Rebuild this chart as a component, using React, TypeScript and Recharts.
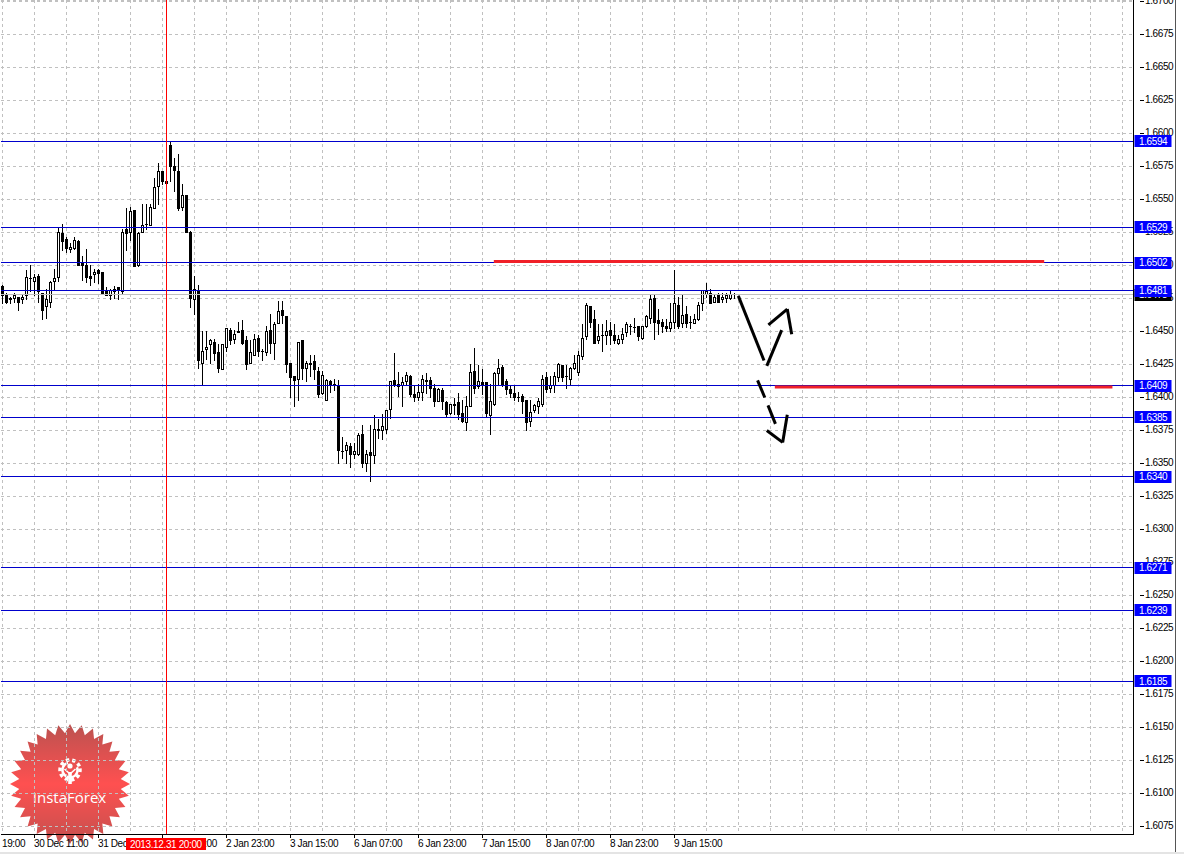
import { ComposedChart, Bar, XAxis, YAxis, CartesianGrid, ReferenceLine } from 'recharts';

const opens = [
  1.6484, 1.6478, 1.6475, 1.6475, 1.6476, 1.6474, 1.6477, 1.6490, 1.6488, 1.6492,
  1.6479, 1.6469, 1.6472, 1.6488, 1.6491, 1.6524, 1.6520, 1.6512, 1.6513, 1.6518,
  1.6502, 1.6500, 1.6492, 1.6493, 1.6496, 1.6495, 1.6480, 1.6477, 1.6480, 1.6483,
  1.6480, 1.6527, 1.6525, 1.6542, 1.6500, 1.6525, 1.6531, 1.6530, 1.6543, 1.6560,
  1.6571, 1.6564, 1.6591, 1.6575, 1.6571, 1.6544, 1.6553, 1.6525, 1.6474, 1.6481,
  1.6426, 1.6436, 1.6440, 1.6442, 1.6434, 1.6421, 1.6438, 1.6451, 1.6444, 1.6450,
  1.6451, 1.6443, 1.6426, 1.6432, 1.6445, 1.6435, 1.6434, 1.6451, 1.6441, 1.6456,
  1.6466, 1.6461, 1.6426, 1.6416, 1.6414, 1.6443, 1.6422, 1.6426, 1.6427, 1.6420,
  1.6403, 1.6398, 1.6412, 1.6410, 1.6409, 1.6359, 1.6360, 1.6363, 1.6357, 1.6357,
  1.6372, 1.6350, 1.6358, 1.6356, 1.6375, 1.6375, 1.6376, 1.6391, 1.6413, 1.6410,
  1.6409, 1.6412, 1.6416, 1.6402, 1.6400, 1.6404, 1.6413, 1.6413, 1.6407, 1.6397,
  1.6405, 1.6396, 1.6388, 1.6395, 1.6396, 1.6388, 1.6381, 1.6393, 1.6420, 1.6408,
  1.6411, 1.6411, 1.6386, 1.6395, 1.6418, 1.6423, 1.6412, 1.6406, 1.6403, 1.6400,
  1.6401, 1.6398, 1.6382, 1.6390, 1.6393, 1.6395, 1.6415, 1.6407, 1.6409, 1.6415,
  1.6424, 1.6416, 1.6414, 1.6422, 1.6419, 1.6431, 1.6446, 1.6469, 1.6459, 1.6443,
  1.6447, 1.6447, 1.6451, 1.6447, 1.6441, 1.6444, 1.6449, 1.6454, 1.6453, 1.6454,
  1.6445, 1.6454, 1.6460, 1.6475, 1.6458, 1.6457, 1.6454, 1.6452, 1.6457, 1.6470,
  1.6456, 1.6463, 1.6457, 1.6456, 1.6459, 1.6471, 1.6478, 1.6479, 1.6472, 1.6477,
  1.6474, 1.6475, 1.6475, 1.6478,
];
const highs = [
  1.6485, 1.6479, 1.6476, 1.6479, 1.6476, 1.6477, 1.6496, 1.6500, 1.6493, 1.6493,
  1.6479, 1.6482, 1.6488, 1.6497, 1.6528, 1.6531, 1.6521, 1.6517, 1.6521, 1.6519,
  1.6507, 1.6512, 1.6500, 1.6497, 1.6497, 1.6495, 1.6483, 1.6482, 1.6484, 1.6483,
  1.6527, 1.6543, 1.6544, 1.6542, 1.6525, 1.6546, 1.6546, 1.6546, 1.6566, 1.6577,
  1.6571, 1.6564, 1.6593, 1.6581, 1.6584, 1.6561, 1.6553, 1.6526, 1.6492, 1.6485,
  1.6450, 1.6450, 1.6444, 1.6444, 1.6440, 1.6440, 1.6452, 1.6452, 1.6451, 1.6457,
  1.6458, 1.6446, 1.6443, 1.6448, 1.6447, 1.6436, 1.6454, 1.6463, 1.6457, 1.6473,
  1.6473, 1.6461, 1.6426, 1.6416, 1.6442, 1.6443, 1.6427, 1.6432, 1.6432, 1.6423,
  1.6420, 1.6414, 1.6413, 1.6414, 1.6413, 1.6370, 1.6366, 1.6365, 1.6365, 1.6373,
  1.6379, 1.6360, 1.6379, 1.6386, 1.6383, 1.6387, 1.6390, 1.6412, 1.6433, 1.6419,
  1.6415, 1.6419, 1.6417, 1.6408, 1.6410, 1.6417, 1.6418, 1.6415, 1.6410, 1.6407,
  1.6407, 1.6397, 1.6395, 1.6399, 1.6403, 1.6398, 1.6401, 1.6425, 1.6437, 1.6424,
  1.6421, 1.6411, 1.6410, 1.6419, 1.6429, 1.6424, 1.6414, 1.6409, 1.6408, 1.6404,
  1.6402, 1.6398, 1.6398, 1.6395, 1.6399, 1.6417, 1.6419, 1.6416, 1.6419, 1.6426,
  1.6424, 1.6424, 1.6423, 1.6432, 1.6435, 1.6455, 1.6471, 1.6469, 1.6466, 1.6455,
  1.6455, 1.6458, 1.6457, 1.6455, 1.6447, 1.6452, 1.6457, 1.6455, 1.6460, 1.6454,
  1.6454, 1.6462, 1.6478, 1.6478, 1.6467, 1.6459, 1.6459, 1.6471, 1.6496, 1.6476,
  1.6477, 1.6469, 1.6461, 1.6463, 1.6472, 1.6481, 1.6486, 1.6482, 1.6478, 1.6479,
  1.6479, 1.6479, 1.6480, 1.6479,
];
const lows = [
  1.6471, 1.6471, 1.6471, 1.6472, 1.6466, 1.6471, 1.6474, 1.6480, 1.6477, 1.6472,
  1.6459, 1.6460, 1.6468, 1.6481, 1.6488, 1.6511, 1.6510, 1.6510, 1.6512, 1.6500,
  1.6489, 1.6487, 1.6485, 1.6487, 1.6486, 1.6479, 1.6477, 1.6474, 1.6475, 1.6474,
  1.6478, 1.6511, 1.6519, 1.6499, 1.6499, 1.6525, 1.6527, 1.6530, 1.6543, 1.6546,
  1.6561, 1.6562, 1.6564, 1.6556, 1.6542, 1.6542, 1.6525, 1.6468, 1.6463, 1.6422,
  1.6409, 1.6429, 1.6426, 1.6428, 1.6419, 1.6421, 1.6435, 1.6440, 1.6441, 1.6449,
  1.6440, 1.6421, 1.6426, 1.6432, 1.6431, 1.6428, 1.6432, 1.6433, 1.6429, 1.6456,
  1.6456, 1.6419, 1.6400, 1.6393, 1.6398, 1.6414, 1.6412, 1.6416, 1.6414, 1.6400,
  1.6402, 1.6398, 1.6404, 1.6405, 1.6350, 1.6354, 1.6350, 1.6347, 1.6354, 1.6356,
  1.6347, 1.6344, 1.6336, 1.6350, 1.6369, 1.6368, 1.6373, 1.6384, 1.6408, 1.6401,
  1.6393, 1.6409, 1.6401, 1.6397, 1.6398, 1.6398, 1.6403, 1.6400, 1.6393, 1.6397,
  1.6391, 1.6385, 1.6387, 1.6387, 1.6383, 1.6381, 1.6375, 1.6393, 1.6403, 1.6407,
  1.6402, 1.6385, 1.6372, 1.6394, 1.6410, 1.6408, 1.6402, 1.6400, 1.6398, 1.6397,
  1.6388, 1.6375, 1.6378, 1.6389, 1.6388, 1.6393, 1.6404, 1.6404, 1.6404, 1.6412,
  1.6412, 1.6407, 1.6410, 1.6421, 1.6417, 1.6429, 1.6444, 1.6453, 1.6441, 1.6441,
  1.6435, 1.6440, 1.6440, 1.6441, 1.6440, 1.6441, 1.6446, 1.6448, 1.6449, 1.6443,
  1.6444, 1.6453, 1.6456, 1.6444, 1.6448, 1.6449, 1.6450, 1.6450, 1.6452, 1.6452,
  1.6453, 1.6453, 1.6452, 1.6456, 1.6458, 1.6466, 1.6476, 1.6471, 1.6472, 1.6472,
  1.6472, 1.6472, 1.6474, 1.6475,
];
const closes = [
  1.6477, 1.6472, 1.6474, 1.6477, 1.6472, 1.6476, 1.6491, 1.6490, 1.6491, 1.6480,
  1.6466, 1.6474, 1.6487, 1.6490, 1.6525, 1.6518, 1.6513, 1.6514, 1.6519, 1.6500,
  1.6500, 1.6491, 1.6490, 1.6495, 1.6494, 1.6479, 1.6477, 1.6481, 1.6482, 1.6481,
  1.6525, 1.6524, 1.6541, 1.6499, 1.6524, 1.6530, 1.6531, 1.6544, 1.6559, 1.6571,
  1.6564, 1.6562, 1.6575, 1.6572, 1.6543, 1.6553, 1.6525, 1.6475, 1.6482, 1.6428,
  1.6435, 1.6438, 1.6443, 1.6433, 1.6422, 1.6440, 1.6452, 1.6443, 1.6448, 1.6449,
  1.6441, 1.6425, 1.6434, 1.6444, 1.6435, 1.6435, 1.6450, 1.6441, 1.6455, 1.6465,
  1.6462, 1.6425, 1.6415, 1.6413, 1.6442, 1.6422, 1.6426, 1.6425, 1.6421, 1.6402,
  1.6417, 1.6413, 1.6409, 1.6409, 1.6360, 1.6359, 1.6364, 1.6357, 1.6359, 1.6371,
  1.6350, 1.6357, 1.6356, 1.6376, 1.6376, 1.6378, 1.6390, 1.6412, 1.6409, 1.6408,
  1.6411, 1.6417, 1.6402, 1.6400, 1.6404, 1.6414, 1.6412, 1.6407, 1.6397, 1.6406,
  1.6397, 1.6387, 1.6395, 1.6394, 1.6387, 1.6382, 1.6393, 1.6419, 1.6407, 1.6412,
  1.6409, 1.6388, 1.6397, 1.6418, 1.6422, 1.6410, 1.6406, 1.6403, 1.6400, 1.6400,
  1.6397, 1.6381, 1.6389, 1.6394, 1.6397, 1.6414, 1.6406, 1.6409, 1.6416, 1.6425,
  1.6415, 1.6416, 1.6422, 1.6426, 1.6432, 1.6445, 1.6470, 1.6457, 1.6441, 1.6446,
  1.6447, 1.6450, 1.6447, 1.6443, 1.6444, 1.6448, 1.6455, 1.6454, 1.6453, 1.6446,
  1.6454, 1.6461, 1.6474, 1.6457, 1.6456, 1.6454, 1.6452, 1.6457, 1.6471, 1.6454,
  1.6462, 1.6456, 1.6457, 1.6459, 1.6470, 1.6481, 1.6480, 1.6471, 1.6476, 1.6472,
  1.6476, 1.6477, 1.6478, 1.6478,
];

const priceTicks = [
  1.67, 1.6675, 1.665, 1.6625, 1.66, 1.6575, 1.655, 1.6525, 1.65, 1.6475, 1.645, 1.6425, 1.64,
  1.6375, 1.635, 1.6325, 1.63, 1.6275, 1.625, 1.6225, 1.62, 1.6175, 1.615, 1.6125, 1.61, 1.6075,
];
const levels = [1.6594, 1.6529, 1.6502, 1.6481, 1.6409, 1.6385, 1.634, 1.6271, 1.6239, 1.6185];
const bidPrice = 1.6478;

const timeTicks = [0, 8, 24, 40, 56, 72, 88, 104, 120, 136, 152, 168];
const timeLabels = [
  '19:00', '30 Dec 11:00', '31 Dec 03:00', '31 Dec 19:00', '2 Jan 23:00', '3 Jan 15:00',
  '6 Jan 07:00', '6 Jan 23:00', '7 Jan 15:00', '8 Jan 07:00', '8 Jan 23:00', '9 Jan 15:00',
];
const gridColumns = [
  0, 8, 16, 24, 32, 40, 48, 56, 64, 72, 80, 88, 96, 104, 112, 120, 128, 136, 144, 152, 160, 168,
  176, 184, 192, 200, 208, 216, 224, 232, 240, 248, 256, 264, 272, 280,
];
const SLOTS = 283;
const CROSSHAIR = 41;
const DOMAIN = [1.606894, 1.670114];

// hand drawn marks, as [candle slot, price] runs
const redLines = [
  [[122.9, 1.6503], [260.0, 1.6503]],
  [[192.9, 1.6408], [277.0, 1.6408]],
];
const arrows = [
  [[183.8, 1.6477], [190.2, 1.6428]],
  [[190.9, 1.6424], [194.6, 1.6451]],
  [[191.3, 1.6455], [196.0, 1.6467], [197.1, 1.6448]],
  [[188.6, 1.6413], [190.4, 1.64]],
  [[191.2, 1.6394], [193.05, 1.638]],
  [[190.9, 1.6375], [194.85, 1.6366], [196.0, 1.6387]],
];

const rows = Array.from({ length: SLOTS }, (_, i) =>
  i < opens.length
    ? { slot: i, range: [lows[i], highs[i]], open: opens[i], close: closes[i] }
    : { slot: i },
);

const labelStyle = {
  fontFamily: '"Liberation Sans", Arial, sans-serif',
  fontSize: 10,
  letterSpacing: -0.38,
};

function Candle(props: any) {
  const { x, y, width, height, payload } = props;
  if (payload.open === undefined || !height) return null;
  const [low, high] = payload.range;
  const toY = (p: number) => Math.round(y + ((high - p) / (high - low)) * height - 0.5) + 0.5;
  const cx = Math.floor(x + width / 2) + 0.5;
  const top = toY(Math.max(payload.open, payload.close));
  const bottom = toY(Math.min(payload.open, payload.close));
  const down = payload.close < payload.open;
  return (
    <g shapeRendering="crispEdges">
      <line x1={cx} x2={cx} y1={toY(high) - 0.5} y2={toY(low) + 0.5} stroke="#000" />
      {top === bottom ? (
        <line x1={cx - 1.5} x2={cx + 1.5} y1={top} y2={top} stroke="#000" />
      ) : (
        <rect x={cx - 1} y={top} width={2} height={bottom - top} fill={down ? '#000' : '#fff'} stroke="#000" />
      )}
    </g>
  );
}

function TimeTick(props: any) {
  const { x, payload } = props;
  const pos = timeTicks.indexOf(payload.value);
  return (
    <g>
      {pos > 0 && <line x1={x} x2={x} y1={834} y2={838} stroke="#000" shapeRendering="crispEdges" />}
      <text x={x - 0.5} y={847} style={labelStyle} fill="#000">
        {timeLabels[pos]}
      </text>
    </g>
  );
}

function PriceTick(props: any) {
  const { x, y, payload } = props;
  return (
    <g>
      <line x1={x - 2} x2={x + 2} y1={y} y2={y} stroke="#000" shapeRendering="crispEdges" />
      <text x={x + 3.5} y={y + 2.5} style={labelStyle} fill="#000">
        {payload.value.toFixed(4)}
      </text>
    </g>
  );
}

// the boxes sit on their own axis so they cover the plain price labels
function PriceTag(props: any) {
  const { y, payload } = props;
  return (
    <g>
      <rect x={1134.5} y={Math.round(y) - 6} width={37} height={12} fill={payload.value === bidPrice ? '#000' : '#0000ff'} />
      <text x={1139} y={y + 3.5} style={labelStyle} fill="#fff">
        {payload.value.toFixed(4)}
      </text>
    </g>
  );
}

function TimeTag(props: any) {
  const { x } = props;
  return (
    <g>
      <rect x={x - 40.5} y={838} width={80} height={12} fill="#ff0000" />
      <text x={x - 36.5} y={847.5} style={labelStyle} fill="#fff">
        2013.12.31 20:00
      </text>
    </g>
  );
}

function Badge() {
  const teeth = 32;
  const pts: string[] = [];
  for (let i = 0; i < teeth * 2; i++) {
    const r = i % 2 === 0 ? 60 : 51;
    const a = (Math.PI * i) / teeth - Math.PI / 2;
    pts.push(`${70 + r * Math.cos(a)},${784 + r * Math.sin(a)}`);
  }
  return (
    <svg width={1184} height={854} style={{ position: 'absolute', left: 0, top: 0 }}>
      <defs>
        <linearGradient id="badgeFill" x1="0" y1="0" x2="0" y2="1">
          <stop offset="0" stopColor="#bb5250" />
          <stop offset="0.5" stopColor="#ff5050" />
          <stop offset="1" stopColor="#c4504e" />
        </linearGradient>
      </defs>
      <polygon points={pts.join(' ')} fill="url(#badgeFill)" />
      <circle cx={70} cy={770} r={10} fill="none" stroke="#fff" strokeWidth={3.5} strokeDasharray="3.4 2.9" transform="rotate(-8 70 770)" />
      <circle cx={70} cy={770} r={7.5} fill="none" stroke="#fff" strokeWidth={2.5} strokeDasharray="36 11.1" transform="rotate(-22 70 770)" />
      <circle cx={70} cy={766} r={2.6} fill="#fff" />
      <path d="M64.5 769 L70 774 L75.5 769" fill="none" stroke="#fff" strokeWidth={1.6} />
      <rect x={68.2} y={772} width={3.6} height={12} fill="#fff" />
      <text x={69.5} y={803} textAnchor="middle" fontFamily='"Open Sans", sans-serif' fontSize={15} fill="#fff">
        InstaForex
      </text>
    </svg>
  );
}

export default function App() {
  return (
    <div style={{ position: 'absolute', left: 0, top: 0, width: 1184, height: 854, background: '#fff', overflow: 'hidden' }}>
      <Badge />
      <div style={{ position: 'absolute', left: 1175, top: 0, width: 1, height: 852, background: '#555' }} />
      <div style={{ position: 'absolute', left: 0, top: 852, width: 1184, height: 2, background: '#e4e4e4' }} />
      <div style={{ position: 'absolute', left: 0, top: 0 }}>
        <ComposedChart
          width={1184}
          height={854}
          data={rows}
          margin={{ top: 0, right: 0, bottom: 0, left: 0.5 }}
          barCategoryGap={0}
          barGap={0}
        >
          <CartesianGrid
            stroke="#c0c0c0"
            strokeDasharray="3 3"
            verticalValues={gridColumns}
            shapeRendering="crispEdges"
          />
          <XAxis
            dataKey="slot"
            type="category"
            height={19.49}
            padding={{ left: 0, right: 1 }}
            ticks={timeTicks}
            interval={0}
            tickLine={false}
            tick={<TimeTick />}
            axisLine={{ stroke: '#000', shapeRendering: 'crispEdges' }}
          />
          <XAxis
            xAxisId="tag"
            dataKey="slot"
            type="category"
            height={0.01}
            padding={{ left: 0, right: 1 }}
            ticks={[CROSSHAIR]}
            interval={0}
            tickLine={false}
            axisLine={false}
            tick={<TimeTag />}
          />
          <XAxis xAxisId="free" type="number" domain={[-0.5, 282.5]} padding={{ left: 0, right: 1 }} allowDataOverflow hide />
          <YAxis
            orientation="right"
            width={50.49}
            domain={DOMAIN}
            allowDataOverflow
            ticks={priceTicks}
            interval={0}
            tickLine={false}
            tick={<PriceTick />}
            axisLine={{ stroke: '#000', shapeRendering: 'crispEdges' }}
          />
          <YAxis
            yAxisId="tags"
            orientation="right"
            width={0.01}
            domain={DOMAIN}
            allowDataOverflow
            ticks={[bidPrice, ...levels]}
            interval={0}
            tickLine={false}
            axisLine={false}
            tick={<PriceTag />}
          />
          <ReferenceLine y={bidPrice} stroke="#c0c0c0" shapeRendering="crispEdges" />
          {levels.map((level) => (
            <ReferenceLine key={level} y={level} stroke="#0000cc" shapeRendering="crispEdges" />
          ))}
          <ReferenceLine x={CROSSHAIR} stroke="#ff0000" shapeRendering="crispEdges" />
          <Bar dataKey="range" shape={<Candle />} isAnimationActive={false} />
          {redLines.map((run, i) => (
            <ReferenceLine
              key={i}
              xAxisId="free"
              segment={run.map(([x, y]) => ({ x, y }))}
              stroke="#f02028"
              strokeWidth={3}
            />
          ))}
          {arrows.flatMap((run, i) =>
            run.slice(1).map((pt, j) => (
              <ReferenceLine
                key={`${i}-${j}`}
                xAxisId="free"
                segment={[
                  { x: run[j][0], y: run[j][1] },
                  { x: pt[0], y: pt[1] },
                ]}
                stroke="#000"
                strokeWidth={3}
              />
            )),
          )}
        </ComposedChart>
      </div>
    </div>
  );
}
